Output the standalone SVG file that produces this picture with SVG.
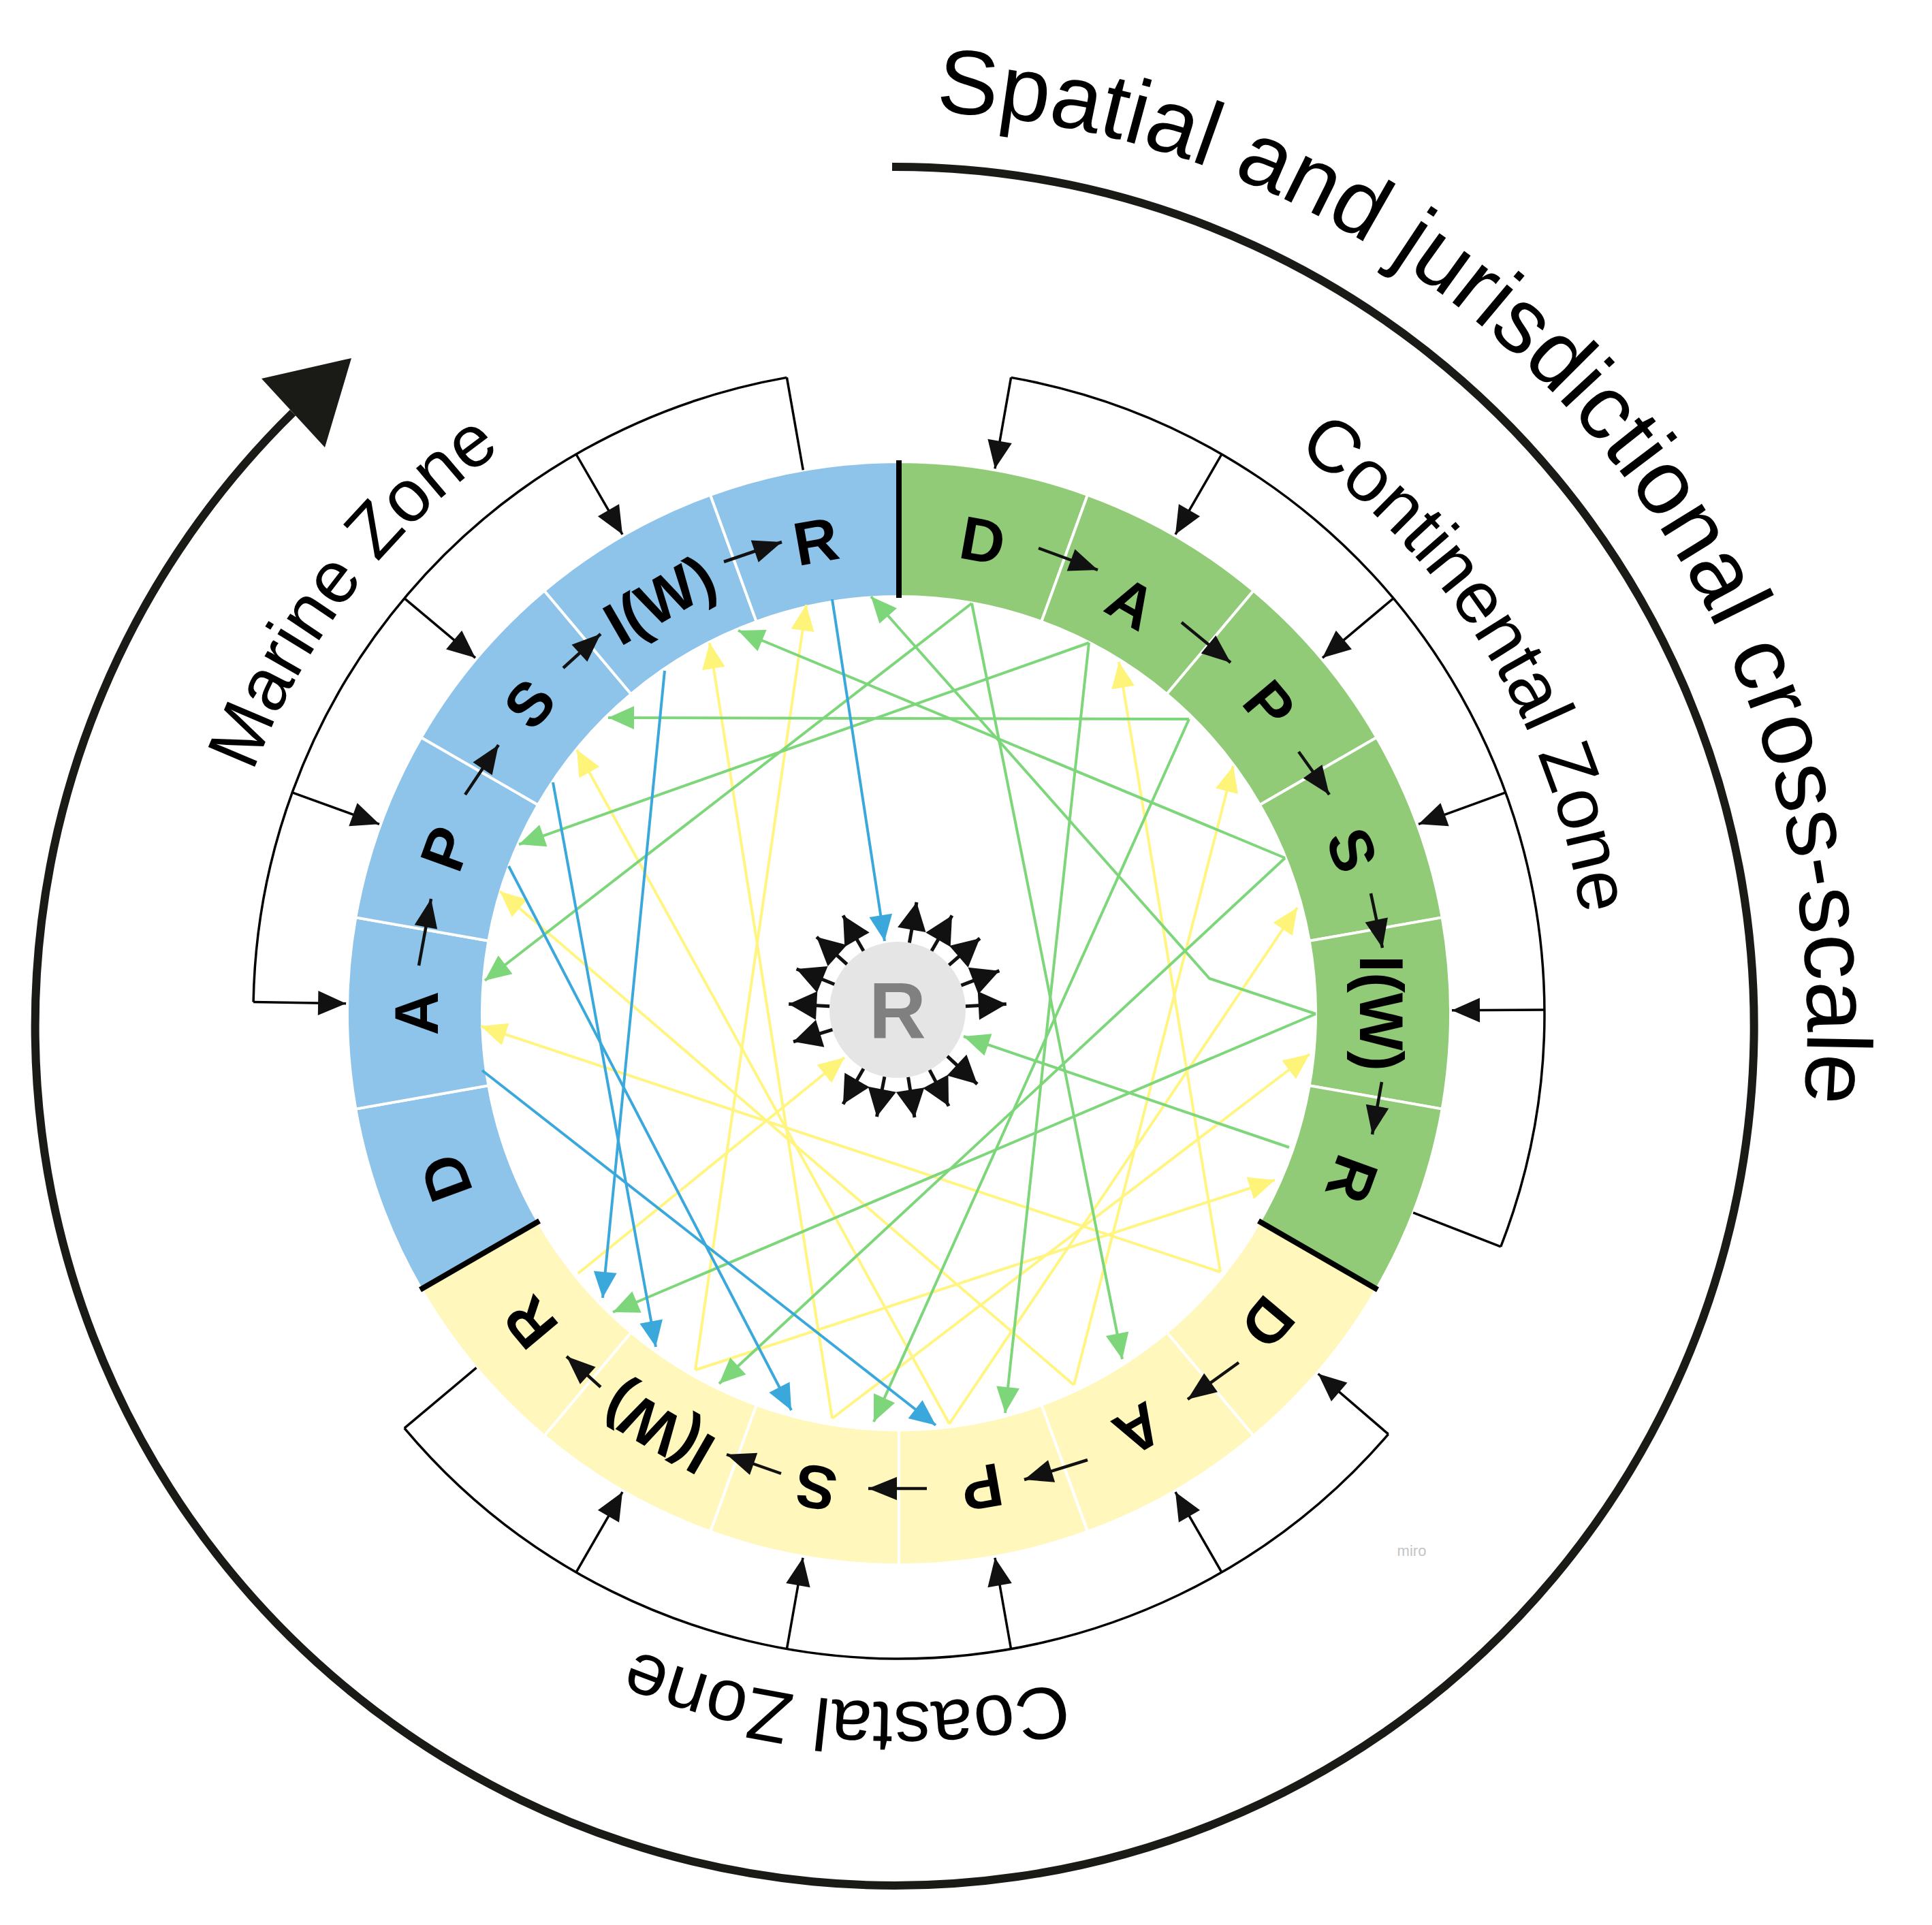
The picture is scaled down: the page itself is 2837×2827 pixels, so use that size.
<svg xmlns="http://www.w3.org/2000/svg" xmlns:xlink="http://www.w3.org/1999/xlink" width="2837" height="2827" viewBox="0 0 2837 2827">
<style>
.seg{stroke:#ffffff;stroke-width:4}
.blue{fill:#8EC4EA}
.green{fill:#91CB78}
.yellow{fill:#FFF7BB}
.lbl{font-family:"Liberation Sans",Arial,sans-serif;font-weight:bold;font-size:90px;fill:#000;text-anchor:middle}
.zone{font-family:"Liberation Sans",Arial,sans-serif;font-size:108px;fill:#000}
.title{font-family:"Liberation Sans",Arial,sans-serif;font-size:134px;fill:#000}
.bnd{stroke:#000;stroke-width:8}
.brk{fill:none;stroke:#000;stroke-width:3.5}
.tick{stroke:#000;stroke-width:3.5;fill:none}
.step{stroke:#111;stroke-width:4.5;fill:none}
.ctr{stroke:#111;stroke-width:5;fill:none}
.cb{stroke:#3BA8DC;stroke-width:4;fill:none}
.cg{stroke:#7DD67A;stroke-width:4;fill:none}
.cy{stroke:#FFF580;stroke-width:4;fill:none}
</style>
<defs>
<marker id="mk" markerUnits="userSpaceOnUse" orient="auto" overflow="visible" markerWidth="1" markerHeight="1"><path d="M0,0 L-41,-18 L-41,18 Z" fill="#111"/></marker>
<marker id="ms" markerUnits="userSpaceOnUse" orient="auto" overflow="visible" markerWidth="1" markerHeight="1"><path d="M0,0 L-42,-17 L-42,17 Z" fill="#111"/></marker>
<marker id="mc" markerUnits="userSpaceOnUse" orient="auto" overflow="visible" markerWidth="1" markerHeight="1"><path d="M0,0 L-41,-21 L-41,21 Z" fill="#111"/></marker>
<marker id="mb" markerUnits="userSpaceOnUse" orient="auto" overflow="visible" markerWidth="1" markerHeight="1"><path d="M0,0 L-38,-17 L-38,17 Z" fill="#3BA8DC"/></marker>
<marker id="mg" markerUnits="userSpaceOnUse" orient="auto" overflow="visible" markerWidth="1" markerHeight="1"><path d="M0,0 L-38,-17 L-38,17 Z" fill="#7DD67A"/></marker>
<marker id="my" markerUnits="userSpaceOnUse" orient="auto" overflow="visible" markerWidth="1" markerHeight="1"><path d="M0,0 L-38,-17 L-38,17 Z" fill="#FFF47A"/></marker>
<path id="tp-title" d="M1310,163 A1344,1344 0 0 1 2608.2,1854.9"/>
<path id="tp-marine" d="M342.5,1226.1 A1012,1012 0 0 1 892.3,570.8"/>
<path id="tp-cont" d="M1826,611.6 A1012,1012 0 0 1 2332,1488"/>
<path id="tp-coast" d="M1666.1,2439 A1012,1012 0 0 1 739.5,2317"/>
</defs>
<rect x="0" y="0" width="2837" height="2827" fill="#ffffff"/>

<g id="scale-arc">
<path d="M1310,245 A1262,1262 0 1 1 430,606" fill="none" stroke="#1A1A17" stroke-width="12"/>
<polygon points="516,526 384,556 477,657" fill="#1A1A17"/>
<text class="title"><textPath xlink:href="#tp-title" href="#tp-title" startOffset="64">Spatial and jurisdictional cross-scale</textPath></text>
</g>

<g id="zone-labels">
<text class="zone"><textPath xlink:href="#tp-marine" href="#tp-marine" startOffset="96">Marine Zone</textPath></text>
<text class="zone"><textPath xlink:href="#tp-cont" href="#tp-cont" startOffset="92">Continental Zone</textPath></text>
<text class="zone"><textPath xlink:href="#tp-coast" href="#tp-coast" startOffset="109">Coastal Zone</textPath></text>
</g>

<g id="marine-zone">
<g id="marine-D"><path class="seg blue" d="M618.5,1893 A810,810 0 0 1 522.3,1628.6 L717.3,1594.2 A612,612 0 0 0 790,1794 Z"/><text class="lbl" transform="translate(654,1730) rotate(250)" y="32">D</text></g>
<g id="marine-A"><path class="seg blue" d="M522.3,1628.6 A810,810 0 0 1 522.3,1347.4 L717.3,1381.8 A612,612 0 0 0 717.3,1594.2 Z"/><text class="lbl" transform="translate(611,1488) rotate(270)" y="32">A</text></g>
<g id="marine-P"><path class="seg blue" d="M522.3,1347.4 A810,810 0 0 1 618.5,1083 L790,1182 A612,612 0 0 0 717.3,1381.8 Z"/><text class="lbl" transform="translate(654,1246) rotate(290)" y="32">P</text></g>
<g id="marine-S"><path class="seg blue" d="M618.5,1083 A810,810 0 0 1 799.3,867.5 L926.6,1019.2 A612,612 0 0 0 790,1182 Z"/><text class="lbl" transform="translate(777,1033) rotate(310)" y="32">S</text></g>
<g id="marine-IW"><path class="seg blue" d="M799.3,867.5 A810,810 0 0 1 1043,726.8 L1110.7,912.9 A612,612 0 0 0 926.6,1019.2 Z"/><text class="lbl" transform="translate(968,880) rotate(330)" y="32">I(W)</text></g>
<g id="marine-R"><path class="seg blue" d="M1043,726.8 A810,810 0 0 1 1320,678 L1320,876 A612,612 0 0 0 1110.7,912.9 Z"/><text class="lbl" transform="translate(1198,794) rotate(350)" y="32">R</text></g>
</g>

<g id="continental-zone">
<g id="cont-D"><path class="seg green" d="M1320,678 A810,810 0 0 1 1597,726.8 L1529.3,912.9 A612,612 0 0 0 1320,876 Z"/><text class="lbl" transform="translate(1443,793) rotate(10)" y="32">D</text></g>
<g id="cont-A"><path class="seg green" d="M1597,726.8 A810,810 0 0 1 1840.7,867.5 L1713.4,1019.2 A612,612 0 0 0 1529.3,912.9 Z"/><text class="lbl" transform="translate(1662,885) rotate(30)" y="32">A</text></g>
<g id="cont-P"><path class="seg green" d="M1840.7,867.5 A810,810 0 0 1 2021.5,1083 L1850,1182 A612,612 0 0 0 1713.4,1019.2 Z"/><text class="lbl" transform="translate(1864.6,1035) rotate(50)" y="32">P</text></g>
<g id="cont-S"><path class="seg green" d="M2021.5,1083 A810,810 0 0 1 2117.7,1347.4 L1922.7,1381.8 A612,612 0 0 0 1850,1182 Z"/><text class="lbl" transform="translate(1986,1248) rotate(70)" y="32">S</text></g>
<g id="cont-IW"><path class="seg green" d="M2117.7,1347.4 A810,810 0 0 1 2117.7,1628.6 L1922.7,1594.2 A612,612 0 0 0 1922.7,1381.8 Z"/><text class="lbl" transform="translate(2029,1488) rotate(90)" y="32">I(W)</text></g>
<g id="cont-R"><path class="seg green" d="M2117.7,1628.6 A810,810 0 0 1 2021.5,1893 L1850,1794 A612,612 0 0 0 1922.7,1594.2 Z"/><text class="lbl" transform="translate(1986,1732) rotate(110)" y="32">R</text></g>
</g>

<g id="coastal-zone">
<g id="coast-D"><path class="seg yellow" d="M2021.5,1893 A810,810 0 0 1 1840.7,2108.5 L1713.4,1956.8 A612,612 0 0 0 1850,1794 Z"/><text class="lbl" transform="translate(1862,1943) rotate(130)" y="32">D</text></g>
<g id="coast-A"><path class="seg yellow" d="M1840.7,2108.5 A810,810 0 0 1 1597,2249.2 L1529.3,2063.1 A612,612 0 0 0 1713.4,1956.8 Z"/><text class="lbl" transform="translate(1672,2100) rotate(150)" y="32">A</text></g>
<g id="coast-P"><path class="seg yellow" d="M1597,2249.2 A810,810 0 0 1 1320,2298 L1320,2100 A612,612 0 0 0 1529.3,2063.1 Z"/><text class="lbl" transform="translate(1442,2185) rotate(170)" y="32">P</text></g>
<g id="coast-S"><path class="seg yellow" d="M1320,2298 A810,810 0 0 1 1043,2249.2 L1110.7,2063.1 A612,612 0 0 0 1320,2100 Z"/><text class="lbl" transform="translate(1198,2185) rotate(190)" y="32">S</text></g>
<g id="coast-IW"><path class="seg yellow" d="M1043,2249.2 A810,810 0 0 1 799.3,2108.5 L926.6,1956.8 A612,612 0 0 0 1110.7,2063.1 Z"/><text class="lbl" transform="translate(966,2100) rotate(210)" y="32">I(W)</text></g>
<g id="coast-R"><path class="seg yellow" d="M799.3,2108.5 A810,810 0 0 1 618.5,1893 L790,1794 A612,612 0 0 0 926.6,1956.8 Z"/><text class="lbl" transform="translate(778,1943) rotate(230)" y="32">R</text></g>
</g>

<g id="zone-boundaries">
<line class="bnd" x1="1320" y1="878" x2="1320" y2="676"/>
<line class="bnd" x1="1848" y1="1793" x2="2023" y2="1894"/>
<line class="bnd" x1="792" y1="1793" x2="617" y2="1894"/>
</g>

<g id="center-R">
<circle cx="1318" cy="1483" r="100" fill="#E5E5E5"/>
<text x="1318" y="1525" font-family="Liberation Sans, Arial, sans-serif" font-weight="bold" font-size="116" fill="#808080" text-anchor="middle">R</text>
</g>

<g id="connectors">
<g id="brackets">
<path class="brk" d="M372.1,1471.5 A948,948 0 0 1 1155.4,554.4"/>
<line class="tick" x1="372.1" y1="1471.5" x2="508.1" y2="1473.8" marker-end="url(#mk)"/>
<line class="tick" x1="429.2" y1="1163.8" x2="557" y2="1210.3" marker-end="url(#mk)"/>
<line class="tick" x1="593.8" y1="878.6" x2="698" y2="966.1" marker-end="url(#mk)"/>
<line class="tick" x1="846" y1="667" x2="914" y2="784.8" marker-end="url(#mk)"/>
<line class="tick" x1="1155.4" y1="554.4" x2="1179.3" y2="690.3"/>
<path class="brk" d="M1484.6,554.4 A948,948 0 0 1 2203.8,1830.8"/>
<line class="tick" x1="1484.6" y1="554.4" x2="1461" y2="688.3" marker-end="url(#mk)"/>
<line class="tick" x1="1794" y1="667" x2="1726" y2="784.8" marker-end="url(#mk)"/>
<line class="tick" x1="2046.2" y1="878.6" x2="1942" y2="966.1" marker-end="url(#mk)"/>
<line class="tick" x1="2210.8" y1="1163.8" x2="2083" y2="1210.3" marker-end="url(#mk)"/>
<line class="tick" x1="2268" y1="1483" x2="2132" y2="1483.7" marker-end="url(#mk)"/>
<line class="tick" x1="2203.8" y1="1830.8" x2="2075.2" y2="1780.9"/>
<path class="brk" d="M2038.7,2106.2 A948,948 0 0 1 593.8,2097.4"/>
<line class="tick" x1="2038.7" y1="2106.2" x2="1935.6" y2="2017.5" marker-end="url(#mk)"/>
<line class="tick" x1="1794" y1="2309" x2="1726" y2="2191.2" marker-end="url(#mk)"/>
<line class="tick" x1="1484.6" y1="2421.6" x2="1461" y2="2287.7" marker-end="url(#mk)"/>
<line class="tick" x1="1155.4" y1="2421.6" x2="1179" y2="2287.7" marker-end="url(#mk)"/>
<line class="tick" x1="846" y1="2309" x2="914" y2="2191.2" marker-end="url(#mk)"/>
<line class="tick" x1="593.8" y1="2097.4" x2="699.5" y2="2008.7"/>
</g>
<g id="step-arrows">
<line class="step" x1="615" y1="1418" x2="633" y2="1320" marker-end="url(#ms)"/>
<line class="step" x1="683" y1="1167" x2="732" y2="1094" marker-end="url(#ms)"/>
<line class="step" x1="827" y1="981" x2="882" y2="931" marker-end="url(#ms)"/>
<line class="step" x1="1063" y1="825" x2="1148" y2="796" marker-end="url(#ms)"/>
<line class="step" x1="1525" y1="805" x2="1612" y2="837" marker-end="url(#ms)"/>
<line class="step" x1="1735" y1="914" x2="1807" y2="973" marker-end="url(#ms)"/>
<line class="step" x1="1907" y1="1104" x2="1952" y2="1167" marker-end="url(#ms)"/>
<line class="step" x1="2013" y1="1312" x2="2030" y2="1392" marker-end="url(#ms)"/>
<line class="step" x1="2029" y1="1589" x2="2015" y2="1666" marker-end="url(#ms)"/>
<line class="step" x1="1819" y1="2001" x2="1744" y2="2055" marker-end="url(#ms)"/>
<line class="step" x1="1597" y1="2144" x2="1504" y2="2173" marker-end="url(#ms)"/>
<line class="step" x1="1361" y1="2186" x2="1275" y2="2186" marker-end="url(#ms)"/>
<line class="step" x1="1147" y1="2164" x2="1067" y2="2136" marker-end="url(#ms)"/>
<line class="step" x1="882" y1="2037" x2="832" y2="1992" marker-end="url(#ms)"/>
</g>
<g id="center-arrows">
<line class="ctr" x1="1335.4" y1="1384.5" x2="1346" y2="1325" marker-end="url(#mc)"/>
<line class="ctr" x1="1368" y1="1396.4" x2="1398" y2="1344.4" marker-end="url(#mc)"/>
<line class="ctr" x1="1393.5" y1="1417.4" x2="1438.8" y2="1378" marker-end="url(#mc)"/>
<line class="ctr" x1="1411.4" y1="1447.2" x2="1467.4" y2="1425.7" marker-end="url(#mc)"/>
<line class="ctr" x1="1417.9" y1="1477.8" x2="1477.8" y2="1474.6" marker-end="url(#mc)"/>
<line class="ctr" x1="1391.1" y1="1551.2" x2="1435" y2="1592.1" marker-end="url(#mc)"/>
<line class="ctr" x1="1365" y1="1571.3" x2="1393.1" y2="1624.3" marker-end="url(#mc)"/>
<line class="ctr" x1="1333.6" y1="1581.8" x2="1343" y2="1641" marker-end="url(#mc)"/>
<line class="ctr" x1="1298.9" y1="1581.2" x2="1287.5" y2="1640" marker-end="url(#mc)"/>
<line class="ctr" x1="1268" y1="1569.6" x2="1238" y2="1621.6" marker-end="url(#mc)"/>
<line class="ctr" x1="1222.4" y1="1512.2" x2="1165" y2="1529.8" marker-end="url(#mc)"/>
<line class="ctr" x1="1218.1" y1="1477.8" x2="1158.2" y2="1474.6" marker-end="url(#mc)"/>
<line class="ctr" x1="1225.3" y1="1445.5" x2="1169.6" y2="1423" marker-end="url(#mc)"/>
<line class="ctr" x1="1243.7" y1="1416.1" x2="1199.1" y2="1376" marker-end="url(#mc)"/>
<line class="ctr" x1="1268" y1="1396.4" x2="1238" y2="1344.4" marker-end="url(#mc)"/>
</g>
<g id="yellow-links">
<polyline class="cy" points="1792,1868 706,1507" marker-end="url(#my)"/>
<polyline class="cy" points="1792,1868 1643,972" marker-end="url(#my)"/>
<polyline class="cy" points="1577,2034 734,1309" marker-end="url(#my)"/>
<polyline class="cy" points="1577,2034 1811,1125" marker-end="url(#my)"/>
<polyline class="cy" points="1394,2091 847,1101" marker-end="url(#my)"/>
<polyline class="cy" points="1394,2091 1905,1333" marker-end="url(#my)"/>
<polyline class="cy" points="1222,2083 1042,944" marker-end="url(#my)"/>
<polyline class="cy" points="1222,2083 1923,1548" marker-end="url(#my)"/>
<polyline class="cy" points="1021,2012 1184,888" marker-end="url(#my)"/>
<polyline class="cy" points="1021,2012 1872,1733" marker-end="url(#my)"/>
<polyline class="cy" points="849,1870 1240,1553" marker-end="url(#my)"/>
</g>
<g id="green-links">
<polyline class="cg" points="1427,886 712,1440" marker-end="url(#mg)"/>
<polyline class="cg" points="1427,886 1648,1996" marker-end="url(#mg)"/>
<polyline class="cg" points="1599,944 762,1240" marker-end="url(#mg)"/>
<polyline class="cg" points="1599,944 1476,2075" marker-end="url(#mg)"/>
<polyline class="cg" points="1746,1056 893,1054" marker-end="url(#mg)"/>
<polyline class="cg" points="1746,1056 1283,2088" marker-end="url(#mg)"/>
<polyline class="cg" points="1887,1260 1084,926" marker-end="url(#mg)"/>
<polyline class="cg" points="1887,1260 1056,2032" marker-end="url(#mg)"/>
<polyline class="cg" points="1932,1489 1776,1437 1279,876" marker-end="url(#mg)"/>
<polyline class="cg" points="1932,1489 900,1927" marker-end="url(#mg)"/>
<polyline class="cg" points="1893,1685 1415,1522" marker-end="url(#mg)"/>
</g>
<g id="blue-links">
<polyline class="cb" points="1222,880 1299,1382" marker-end="url(#mb)"/>
<polyline class="cb" points="976,985 885,1906" marker-end="url(#mb)"/>
<polyline class="cb" points="812,1149 963,1978" marker-end="url(#mb)"/>
<polyline class="cb" points="747,1272 1162,2071" marker-end="url(#mb)"/>
<polyline class="cb" points="708,1572 1374,2093" marker-end="url(#mb)"/>
</g>
</g>

<text x="2073" y="2285" font-family="Liberation Sans, Arial, sans-serif" font-size="22" fill="#C4C4C4" text-anchor="middle">miro</text>
</svg>
